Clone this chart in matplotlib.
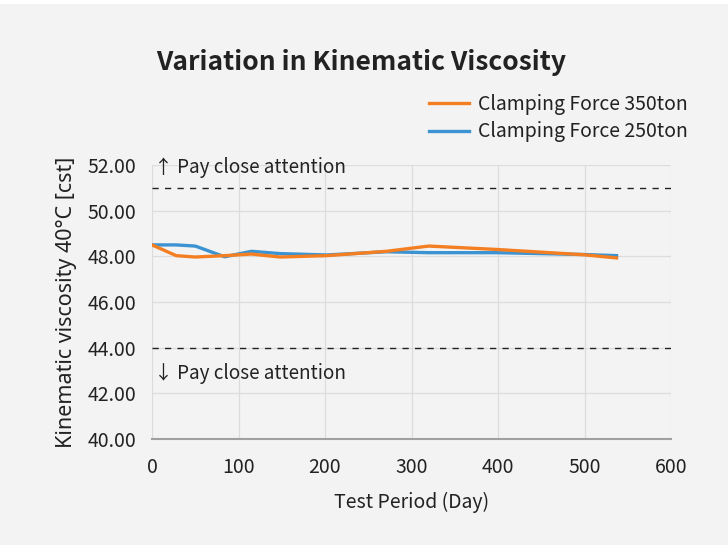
import matplotlib
matplotlib.use("Agg")
import matplotlib.pyplot as plt
from matplotlib.patches import Rectangle

days = [0, 28, 50, 84, 115, 148, 202, 271, 320, 399, 499, 537]
force_350 = [48.50, 48.03, 47.97, 48.03, 48.10, 47.97, 48.03, 48.22, 48.45, 48.30, 48.07, 47.93]
force_250 = [48.50, 48.50, 48.45, 47.98, 48.22, 48.12, 48.06, 48.20, 48.16, 48.16, 48.08, 48.03]
series_names = ["Clamping Force 350ton", "Clamping Force 250ton"]
upper_limit = 51.0
lower_limit = 44.0
x_ticks = [0, 100, 200, 300, 400, 500, 600]
y_ticks = [40, 42, 44, 46, 48, 50, 52]

FONT = ["Noto Sans CJK JP", "DejaVu Sans"]
plt.rcParams["font.family"] = FONT
BG = "#f3f3f3"

fig = plt.figure(figsize=(7.28, 5.45), dpi=100, facecolor=BG)
fig.patches.append(Rectangle((0, 1 - 4 / 545), 1, 4 / 545, transform=fig.transFigure,
                             facecolor="white", edgecolor="none", zorder=-1))
ax = fig.add_axes([152 / 728, 1 - 439 / 545, (671 - 152) / 728, (439 - 165) / 545])
ax.set_facecolor(BG)

ax.plot(days, force_250, color="#3c93d2", lw=2.4, label=series_names[1], zorder=3)
ax.plot(days, force_350, color="#f47f22", lw=2.4, label=series_names[0], zorder=4)

ax.axhline(upper_limit, color="#222222", lw=1.0, ls=(0, (4.5, 4.5)), zorder=2)
ax.axhline(lower_limit, color="#222222", lw=1.0, ls=(0, (4.5, 4.5)), zorder=2)
ax.text(2, 51.87, "↑ Pay close attention", fontsize=13.6, color="#222222", va="center", ha="left")
ax.text(2, 42.87, "↓ Pay close attention", fontsize=13.6, color="#222222", va="center", ha="left")

ax.set_xlim(0, 600)
ax.set_ylim(40, 52)
ax.set_xticks(x_ticks)
ax.set_yticks(y_ticks)
ax.set_yticklabels([f"{v:.2f}" for v in y_ticks])
ax.tick_params(axis="both", length=0, labelsize=14, colors="#222222")
ax.tick_params(axis="x", pad=13)
ax.tick_params(axis="y", pad=11)
ax.grid(True, color="#dcdcdc", lw=0.9)
ax.set_axisbelow(True)
for s in ["left", "right", "top"]:
    ax.spines[s].set_visible(False)
ax.spines["bottom"].set_color("#a0a0a0")
ax.spines["bottom"].set_linewidth(1.5)

ax.set_xlabel("Test Period (Day)", fontsize=14, color="#222222", labelpad=10)
ax.set_ylabel("Kinematic viscosity 40°C [cst]", fontsize=15.5, color="#222222",
              family=["Noto Sans", "DejaVu Sans"], labelpad=8)

fig.text(361 / 728, 1 - 62 / 545, "Variation in Kinematic Viscosity", fontsize=19,
         fontweight="bold", ha="center", va="center", color="#222222")

handles, labels = ax.get_legend_handles_labels()
order = [1, 0]
leg = fig.legend([handles[i] for i in order], [labels[i] for i in order],
                 loc="upper left", bbox_to_anchor=(411 / 728, 1 - 76 / 545),
                 frameon=False, fontsize=14, handlelength=2.06, handletextpad=0.5,
                 labelspacing=0.35, labelcolor="#222222")

fig.savefig("out.png", dpi=100, facecolor=BG)
